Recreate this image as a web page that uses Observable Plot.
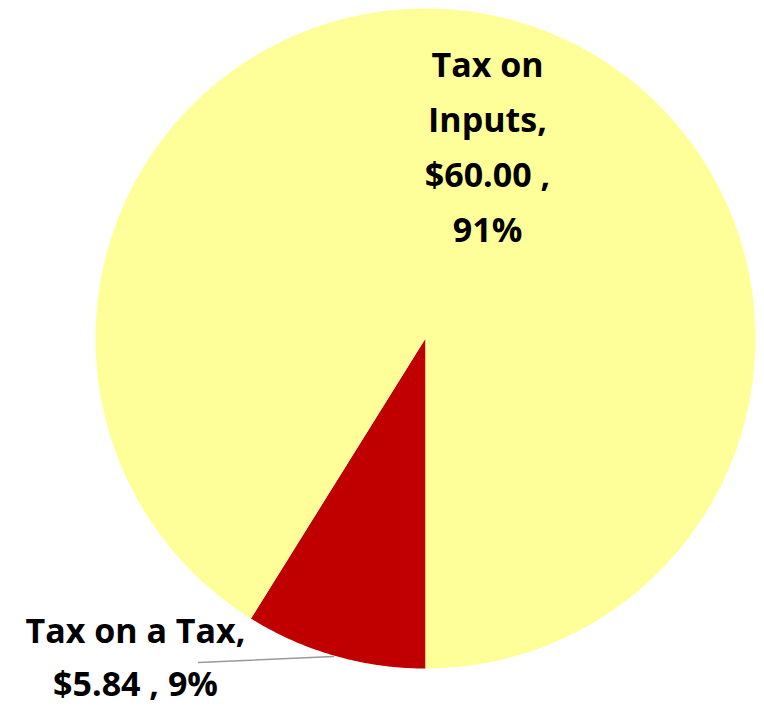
<!DOCTYPE html>
<html>
<head>
<meta charset="utf-8">
<script src="https://cdn.jsdelivr.net/npm/d3@7"></script>
<script src="https://cdn.jsdelivr.net/npm/@observablehq/plot@0.6"></script>
<style>
  html, body { margin: 0; padding: 0; background: #fff; }
  #chart { width: 764px; height: 708px; }
</style>
</head>
<body>
<div id="chart"></div>
<script>
// Data
const categories = ["Tax on a Tax", "Tax on Inputs"];
const amounts = [5.84, 60.00];
const percentLabels = ["9%", "91%"];
const amountLabels = ["$5.84", "$60.00"];
const colors = ["#C00000", "#FFFF99"];

// Layout
const W = 764, H = 708;
const cx = 425, cy = 338, R = 330;
const startAngle = Math.PI; // first slice starts at 6 o'clock, clockwise

const total = d3.sum(amounts);
const slices = [];
let a0 = startAngle;
categories.forEach((c, i) => {
  const a1 = a0 + (amounts[i] / total) * 2 * Math.PI;
  slices.push({cat: c, a0, a1, i});
  a0 = a1;
});

// Polygon points for each slice (angles clockwise from 12 o'clock)
const pts = [];
slices.forEach(s => {
  const n = Math.max(8, Math.ceil((s.a1 - s.a0) / (Math.PI / 360)));
  pts.push({cat: s.cat, x: cx, y: cy});
  for (let k = 0; k <= n; k++) {
    const a = s.a0 + (s.a1 - s.a0) * k / n;
    pts.push({cat: s.cat, x: cx + R * Math.sin(a), y: cy - R * Math.cos(a)});
  }
  pts.push({cat: s.cat, x: cx, y: cy});
});

const smallLabel = [{text: `${categories[0]},\n${amountLabels[0]} , ${percentLabels[0]}`, x: 135, y: 659}];
const bigLabel = [{text: `Tax on\nInputs,\n${amountLabels[1]} ,\n${percentLabels[1]}`, x: 487, y: 148}];

const leader = [{x: 198, y: 662}, {x: 333, y: 656}];

const textStyle = {
  x: "x", y: "y", text: "text",
  fontSize: 34, fontWeight: "bold",
  fontFamily: "'Open Sans', Roboto, sans-serif",
  fill: "#000", textAnchor: "middle", dy: -7
};

const plot = Plot.plot({
  width: W,
  height: H,
  margin: 0,
  x: {domain: [0, W], range: [0, W], axis: null},
  y: {domain: [0, H], range: [0, H], axis: null},
  color: {domain: categories, range: colors},
  style: {background: "#fff"},
  marks: [
    Plot.line(pts, {x: "x", y: "y", z: "cat", fill: "cat", stroke: "none", curve: "linear"}),
    Plot.line(leader, {x: "x", y: "y", stroke: "#9a9a9a", strokeWidth: 1.5}),
    Plot.text(bigLabel, {...textStyle, lineHeight: 1.62}),
    Plot.text(smallLabel, {...textStyle, lineHeight: 1.56})
  ]
});
document.getElementById("chart").appendChild(plot);
</script>
</body>
</html>
